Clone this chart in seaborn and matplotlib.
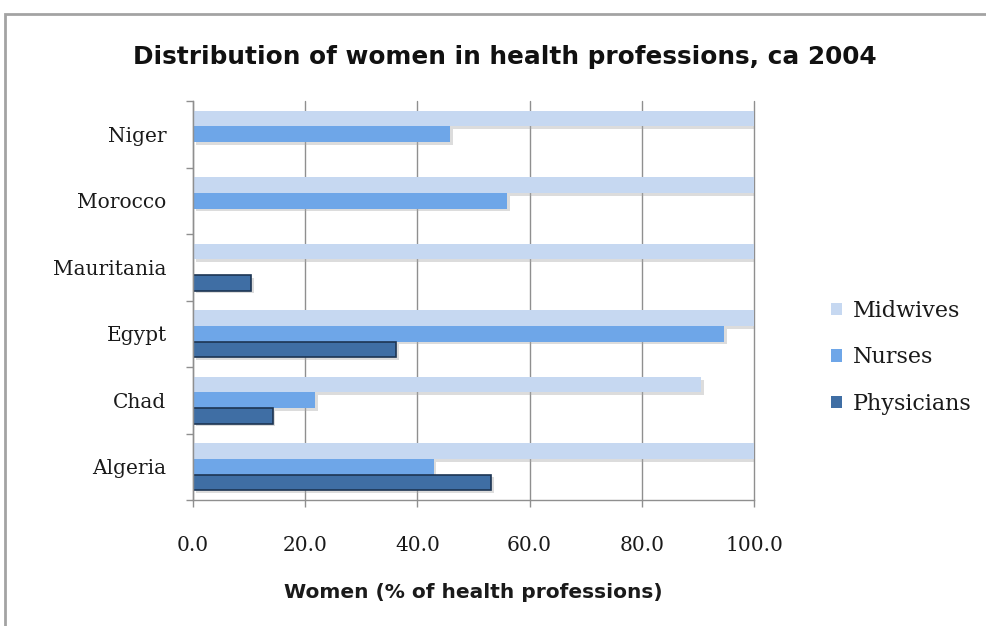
import matplotlib
matplotlib.use("Agg")
import matplotlib.pyplot as plt
import matplotlib.patheffects as pe
from matplotlib.patches import Rectangle
from matplotlib.ticker import FixedLocator, FormatStrFormatter
import numpy as np
import pandas as pd
import seaborn as sns

# Share of women (%) in each health profession, ca 2004
countries = ["Niger", "Morocco", "Mauritania", "Egypt", "Chad", "Algeria"]
midwives = [100.0, 100.0, 100.0, 100.0, 90.6, 100.0]
nurses = [45.8, 56.0, np.nan, 94.7, 21.7, 42.9]
physicians = [np.nan, np.nan, 10.4, 36.2, 14.2, 53.1]
professions = ["Midwives", "Nurses", "Physicians"]
x_ticks = [0, 20, 40, 60, 80, 100]

df = pd.DataFrame({"Country": countries, "Midwives": midwives,
                   "Nurses": nurses, "Physicians": physicians})
long = df.melt(id_vars="Country", var_name="Profession", value_name="Share")

palette = {"Midwives": "#c6d8f1", "Nurses": "#6ea6e8", "Physicians": "#3f6ea4"}

sns.set_theme(style="white")
plt.rcParams["font.family"] = ["DejaVu Serif"]
head_font = ["DejaVu Sans"]

fig = plt.figure(figsize=(9.87, 6.26), dpi=100)
ax = fig.add_axes([193 / 987, 1 - 500 / 626, 561 / 987, 399 / 626])

sns.barplot(data=long, y="Country", x="Share", hue="Profession",
            order=countries, hue_order=professions, palette=palette,
            orient="h", width=0.7, errorbar=None, saturation=1,
            linewidth=0, ax=ax)

# Outline the physician bars and give every bar a soft drop shadow
shadow = [pe.SimplePatchShadow(offset=(2, -2), shadow_rgbFace="#a8a8a8", alpha=0.4), pe.Normal()]
for cont, prof in zip(ax.containers, professions):
    for bar in cont:
        bar.set_path_effects(shadow)
        if prof == "Physicians":
            bar.set_edgecolor("#1d3553")
            bar.set_linewidth(1.2)

ax.set_xlim(0, 100)
ax.set_ylim(5.5, -0.5)
ax.xaxis.set_major_locator(FixedLocator(x_ticks))
ax.xaxis.set_major_formatter(FormatStrFormatter("%.1f"))

grid_c = "#8f8f8f"
ax.grid(axis="x", color=grid_c, linewidth=1.0)
ax.grid(axis="y", visible=False)
for ln in ax.get_xgridlines():
    ln.set_clip_on(False)
ax.set_axisbelow(True)

for side in ["top", "right"]:
    ax.spines[side].set_visible(False)
for side in ["left", "bottom"]:
    ax.spines[side].set_color(grid_c)
    ax.spines[side].set_linewidth(1.0)

ax.tick_params(axis="x", direction="out", length=5, width=1, color=grid_c,
               pad=21, labelsize=14.5, labelcolor="#1a1a1a", bottom=True)
ax.tick_params(axis="y", which="major", length=0, pad=19, labelsize=14.5,
               labelcolor="#1a1a1a", left=True)
ax.yaxis.set_minor_locator(FixedLocator(np.arange(-0.5, 6.0, 1.0)))
ax.tick_params(axis="y", which="minor", direction="out", length=5, width=1,
               color=grid_c, left=True)

ax.set_ylabel("")
ax.set_xlabel("Women (% of health professions)", fontsize=14.5,
              fontweight="bold", family=head_font, labelpad=20,
              color="#1a1a1a")

fig.text(505 / 987, 1 - 57 / 626, "Distribution of women in health professions, ca 2004",
         ha="center", va="center", fontsize=17.8, fontweight="bold",
         family=head_font, color="#111111")

sns.move_legend(ax, loc="center left", bbox_to_anchor=(0.831, 0.429),
                bbox_transform=fig.transFigure, frameon=False, title=None,
                fontsize=16, handlelength=0.5, handleheight=0.5,
                handletextpad=0.45, labelspacing=1.1, borderpad=0)
for txt in ax.get_legend().get_texts():
    txt.set_color("#1a1a1a")

# Light grey frame around the chart area
fig.patches.append(Rectangle((5 / 987, -0.05), 1.1, 1 - 14 / 626 + 0.05,
                             transform=fig.transFigure, fill=False,
                             edgecolor="#a3a3a3", linewidth=2.0))

fig.savefig("out.png", dpi=100)
